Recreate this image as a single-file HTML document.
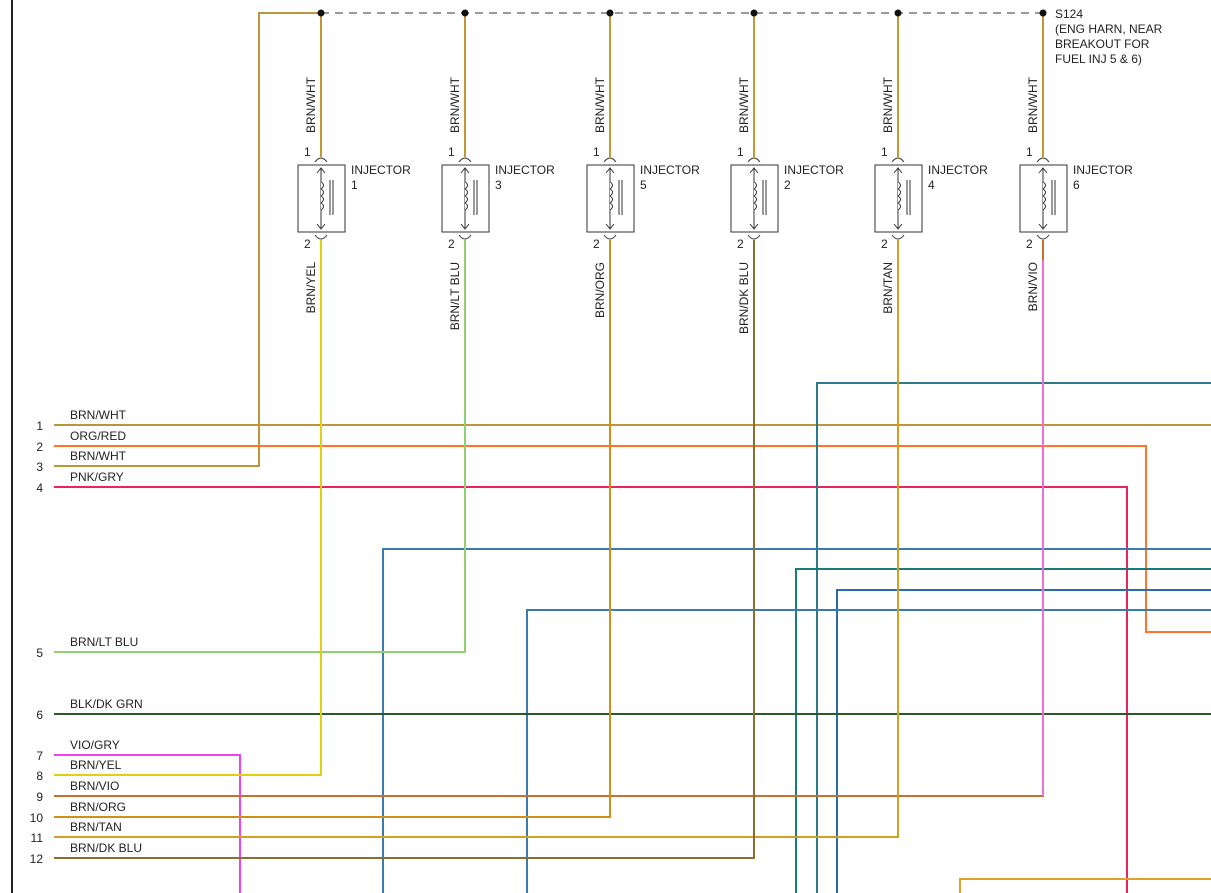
<!DOCTYPE html><html><head><style>body{margin:0;background:#fff}svg{display:block}text{font-family:"Liberation Sans",sans-serif;font-size:12px;fill:#222}</style></head><body>
<svg width="1211" height="893" xmlns="http://www.w3.org/2000/svg">
<defs>
<g id="inj">
<line x1="0" y1="13" x2="0" y2="157" stroke="#c09a30" stroke-width="2"/>
<circle cx="0" cy="13" r="3.5" fill="#111"/>
<path d="M-6,162 Q0,154 6,162 M-6,235 Q0,243 6,235" fill="none" stroke="#333"/>
<rect x="-23" y="165" width="47" height="67" fill="#fff" stroke="#333"/>
<line x1="0" y1="168" x2="0" y2="229" stroke="#333"/>
<path d="M-4,173 L0,168 L4,173 M-4,224 L0,229 L4,224" fill="none" stroke="#333"/>
<path d="M0,182 q5,3 0,7 q5,3 0,7 q5,3 0,7 q5,3 0,7" fill="#fff" stroke="#333"/>
<line x1="9" y1="180" x2="9" y2="215" stroke="#333"/><line x1="12" y1="180" x2="12" y2="215" stroke="#333"/>
</g>
</defs>
<line x1="12" y1="0" x2="12" y2="893" stroke="#222" stroke-width="2"/>
<g fill="none" stroke-width="2">
<line x1="321" y1="13" x2="1043" y2="13" stroke="#999" stroke-dasharray="8,6"/>
<polyline points="54,466 259,466 259,13 321,13" stroke="#b8963c"/>
<line x1="54" y1="425" x2="1211" y2="425" stroke="#b8963c"/>
<polyline points="54,446 1146,446 1146,632 1211,632" stroke="#ff7428"/>
<polyline points="54,487 1127,487 1127,893" stroke="#f0205a"/>
<polyline points="1211,383 817,383 817,893" stroke="#2a7a8a"/>
<polyline points="1211,549 383,549 383,893" stroke="#3a7ab0"/>
<polyline points="1211,569 796,569 796,893" stroke="#1a7a7a"/>
<polyline points="1211,590 837,590 837,893" stroke="#2a6ab0"/>
<polyline points="1211,610 527,610 527,893" stroke="#3a7ab0"/>
<polyline points="1211,879 960,879 960,893" stroke="#e0a030"/>
<polyline points="54,652 465,652 465,240" stroke="#90d070"/>
<line x1="54" y1="714" x2="1211" y2="714" stroke="#2a5a2a"/>
<polyline points="54,755 240,755 240,893" stroke="#f040f0"/>
<polyline points="54,775 321,775 321,240" stroke="#e0d010"/>
<polyline points="54,796 1043,796 1043,240" stroke="#c87030"/>
<line x1="1043" y1="260" x2="1043" y2="796" stroke="#f070d0"/>
<polyline points="54,817 610,817 610,240" stroke="#d09018"/>
<polyline points="54,837 898,837 898,240" stroke="#d0a020"/>
<polyline points="54,858 754,858 754,240" stroke="#8a7030"/>
</g>
<use href="#inj" transform="translate(321,0)"/>
<use href="#inj" transform="translate(465,0)"/>
<use href="#inj" transform="translate(610,0)"/>
<use href="#inj" transform="translate(754,0)"/>
<use href="#inj" transform="translate(898,0)"/>
<use href="#inj" transform="translate(1043,0)"/>
<g>
<text x="304" y="156">1</text><text x="304" y="248">2</text><text x="351" y="174">INJECTOR</text><text x="351" y="189">1</text>
<text x="448" y="156">1</text><text x="448" y="248">2</text><text x="495" y="174">INJECTOR</text><text x="495" y="189">3</text>
<text x="593" y="156">1</text><text x="593" y="248">2</text><text x="640" y="174">INJECTOR</text><text x="640" y="189">5</text>
<text x="737" y="156">1</text><text x="737" y="248">2</text><text x="784" y="174">INJECTOR</text><text x="784" y="189">2</text>
<text x="881" y="156">1</text><text x="881" y="248">2</text><text x="928" y="174">INJECTOR</text><text x="928" y="189">4</text>
<text x="1026" y="156">1</text><text x="1026" y="248">2</text><text x="1073" y="174">INJECTOR</text><text x="1073" y="189">6</text>
<text transform="translate(315,133) rotate(-90)">BRN/WHT</text>
<text transform="translate(459,133) rotate(-90)">BRN/WHT</text>
<text transform="translate(604,133) rotate(-90)">BRN/WHT</text>
<text transform="translate(748,133) rotate(-90)">BRN/WHT</text>
<text transform="translate(892,133) rotate(-90)">BRN/WHT</text>
<text transform="translate(1037,133) rotate(-90)">BRN/WHT</text>
<text transform="translate(315,262) rotate(-90)" text-anchor="end">BRN/YEL</text>
<text transform="translate(459,262) rotate(-90)" text-anchor="end">BRN/LT BLU</text>
<text transform="translate(604,262) rotate(-90)" text-anchor="end">BRN/ORG</text>
<text transform="translate(748,262) rotate(-90)" text-anchor="end">BRN/DK BLU</text>
<text transform="translate(892,262) rotate(-90)" text-anchor="end">BRN/TAN</text>
<text transform="translate(1037,262) rotate(-90)" text-anchor="end">BRN/VIO</text>
</g>
<g>
<text x="1055" y="18">S124</text><text x="1055" y="33">(ENG HARN, NEAR</text><text x="1055" y="48">BREAKOUT FOR</text><text x="1055" y="63">FUEL INJ 5 &amp; 6)</text>
</g>
<g text-anchor="end">
<text x="43" y="430">1</text><text x="43" y="451">2</text><text x="43" y="471">3</text><text x="43" y="492">4</text><text x="43" y="657">5</text><text x="43" y="719">6</text><text x="43" y="760">7</text><text x="43" y="780">8</text><text x="43" y="801">9</text><text x="43" y="822">10</text><text x="43" y="842">11</text><text x="43" y="863">12</text>
</g>
<g>
<text x="70" y="419">BRN/WHT</text><text x="70" y="440">ORG/RED</text><text x="70" y="460">BRN/WHT</text><text x="70" y="481">PNK/GRY</text><text x="70" y="646">BRN/LT BLU</text><text x="70" y="708">BLK/DK GRN</text><text x="70" y="749">VIO/GRY</text><text x="70" y="769">BRN/YEL</text><text x="70" y="790">BRN/VIO</text><text x="70" y="811">BRN/ORG</text><text x="70" y="831">BRN/TAN</text><text x="70" y="852">BRN/DK BLU</text>
</g>
</svg></body></html>
